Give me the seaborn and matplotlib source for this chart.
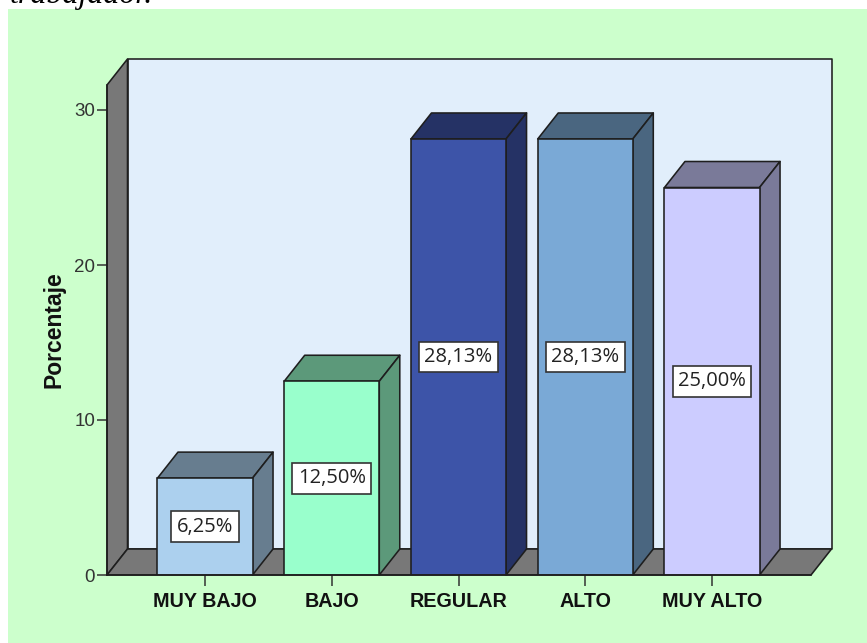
import matplotlib
matplotlib.use("Agg")
import matplotlib.pyplot as plt
from matplotlib.patches import Polygon, Rectangle
import pandas as pd
import seaborn as sns

categories = ["MUY BAJO", "BAJO", "REGULAR", "ALTO", "MUY ALTO"]
percentages = [6.25, 12.50, 28.13, 28.13, 25.00]
value_labels = ["6,25%", "12,50%", "28,13%", "28,13%", "25,00%"]
front_colors = ["#ACD0EE", "#99FFCC", "#3D54A8", "#7AA9D6", "#CCCCFF"]
side_colors = ["#677D8F", "#5C997A", "#253265", "#4A6680", "#7A7A99"]
y_ticks = [0, 10, 20, 30]

W, H = 867, 643
EDGE = "#1E1E1E"
LW = 1.15

sns.set_theme(style="white")
plt.rcParams["font.family"] = ["Liberation Sans", "DejaVu Sans"]

fig = plt.figure(figsize=(W / 100, H / 100), dpi=100, facecolor="white")
fig.add_artist(Rectangle((8 / W, 0), 1 - 8 / W, 1 - 9 / H, transform=fig.transFigure,
                         facecolor="#CCFFCC", edgecolor="none", zorder=-10))
fig.text(10 / W, 1 - 3 / H, "trabajador.", family="Liberation Serif", style="italic",
         fontsize=23, color="black", va="baseline", ha="left")

ax = fig.add_axes([107 / W, 1 - 575 / H, (811 - 107) / W, (575 - 85) / H])
ax.patch.set_alpha(0)

data = pd.DataFrame({"nivel": categories, "pct": percentages})
sns.barplot(data=data, x="nivel", y="pct", hue="nivel", order=categories,
            hue_order=categories, palette=front_colors, saturation=1, width=0.75,
            edgecolor=EDGE, linewidth=LW, legend=False, ax=ax, zorder=3)

xmin, xmax = (107 - 205) / 126.75, (811 - 205) / 126.75
ymin, ymax = 0, 490 / 15.5
ax.set_xlim(xmin, xmax)
ax.set_ylim(ymin, ymax)

# Oblique offset of the depth axis, in data units
dx, dy = 20.5 / 126.75, 26 / 15.5


def face(points, color, zorder):
    ax.add_patch(Polygon(points, closed=True, facecolor=color, edgecolor=EDGE,
                         linewidth=LW, joinstyle="round", clip_on=False, zorder=zorder))


# Box walls
face([(xmin + dx, ymin + dy), (xmax + dx, ymin + dy), (xmax + dx, ymax + dy),
      (xmin + dx, ymax + dy)], "#E1EEFB", 0.5)
face([(xmin, ymin), (xmin + dx, ymin + dy), (xmin + dx, ymax + dy), (xmin, ymax)],
     "#787878", 0.6)
face([(xmin, ymin), (xmin + dx, ymin + dy), (xmax + dx, ymin + dy), (xmax, ymin)],
     "#787878", 0.6)

# Top and side faces of each bar, then its value box
for bar, side, label in zip(ax.patches[:len(categories)], side_colors, value_labels):
    x0, x1 = bar.get_x(), bar.get_x() + bar.get_width()
    top = bar.get_height()
    face([(x0, top), (x1, top), (x1 + dx, top + dy), (x0 + dx, top + dy)], side, 2)
    face([(x1, 0), (x1 + dx, dy), (x1 + dx, top + dy), (x1, top)], side, 2)
    ax.text((x0 + x1) / 2, top / 2, label, family="Open Sans", fontsize=14.5,
            color="#222222", ha="center", va="center", zorder=5,
            bbox=dict(boxstyle="square,pad=0.27", facecolor="white",
                      edgecolor="#333333", linewidth=1.2))

ax.set_xlabel("")
ax.set_ylabel("Porcentaje", fontsize=16.5, fontweight="bold", color="#111111", labelpad=6)
ax.set_yticks(y_ticks)
ax.set_yticklabels([str(t) for t in y_ticks], fontsize=13.5, color="#333333")
ax.tick_params(axis="y", left=True, length=7.5, width=1.1, color="#333333", pad=1)
ax.tick_params(axis="x", bottom=True, length=8, width=1.1, color="#333333", pad=4.5)
for tick in ax.get_xticklabels():
    tick.set_fontsize(14.2)
    tick.set_fontweight("bold")
    tick.set_color("#111111")

for name, spine in ax.spines.items():
    spine.set_visible(name in ("left", "bottom"))
    spine.set_color(EDGE)
    spine.set_linewidth(LW)
    spine.set_zorder(4)

fig.savefig("out.png", dpi=100, facecolor=fig.get_facecolor())
